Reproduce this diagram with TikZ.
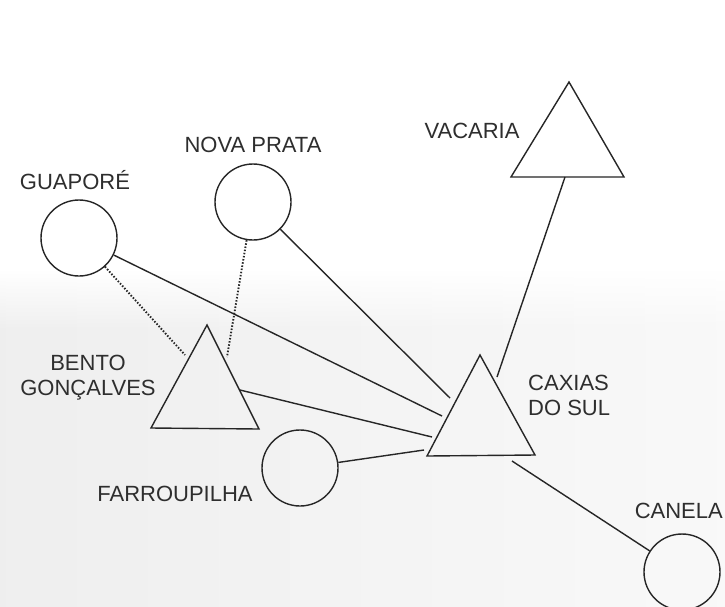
\documentclass[tikz,border=0pt]{standalone}
\usepackage{fontspec}
\setmainfont{Liberation Sans}
\usetikzlibrary{fadings}
\definecolor{ink}{HTML}{262626}
\definecolor{txt}{HTML}{2E2E2E}
\begin{document}
\begin{tikzpicture}[x=1pt,y=-1pt,
  city/.style={draw=ink, line width=1.4pt, circle, minimum size=76pt, inner sep=0pt},
  town/.style={draw=ink, line width=1.4pt, line join=miter},
  lbl/.style={font=\fontsize{22}{24.5}\selectfont, text=txt, inner sep=0pt},
  link/.style={draw=ink, line width=1.4pt},
  dotlink/.style={draw=ink, line width=1.9pt, dash pattern=on 1.5pt off 1.7pt}]
\useasboundingbox (0,0) rectangle (725,606);
\fill[white] (0,0) rectangle (725,606);
\shade[left color=gray!13, right color=gray!5] (0,330) rectangle (725,606);
\shade[left color=gray!13, right color=gray!5, path fading=north] (0,270) rectangle (725,330.5);

% circles (towns)
\node[city] (guapore) at (79,238) {};
\node[city] (novaprata) at (253,202) {};
\node[city] (farroupilha) at (300,468) {};
\node[city] (canela) at (682,572) {};

% triangles (cities)
\coordinate (bA) at (207,325); \coordinate (bL) at (151,428); \coordinate (bR) at (259,429);
\coordinate (cA) at (480,355); \coordinate (cL) at (427,456); \coordinate (cR) at (535,455);
\coordinate (vA) at (569,82);  \coordinate (vL) at (511,177); \coordinate (vR) at (624,177);
\draw[town] (bA) -- (bL) -- (bR) -- cycle;
\draw[town] (cA) -- (cL) -- (cR) -- cycle;
\draw[town] (vA) -- (vL) -- (vR) -- cycle;

% connector end points
\coordinate (cxNP) at (450,398);
\coordinate (cxGU) at (442,416);
\coordinate (cxBG) at (432,437);
\coordinate (cxFA) at (424,450);
\coordinate (cxVA) at (497,377);
\coordinate (cxCA) at (512,461);
\coordinate (bgGU) at (185,355);
\coordinate (bgNP) at (227,357);
\coordinate (bgCX) at (240,390);
\coordinate (vaCX) at (565,177);

% connectors
\draw[link] (guapore) -- (cxGU);
\draw[link] (novaprata) -- (cxNP);
\draw[link] (bgCX) -- (cxBG);
\draw[link] (farroupilha) -- (cxFA);
\draw[link] (vaCX) -- (cxVA);
\draw[link] (cxCA) -- (canela);
\draw[dotlink] (guapore) -- (bgGU);
\draw[dotlink] (novaprata) -- (bgNP);

% labels
\node[lbl, anchor=base] (lGU) at (75,189) {GUAPORÉ};
\node[lbl, anchor=base] (lNP) at (253,152) {NOVA PRATA};
\node[lbl, anchor=base] (lVA) at (472,138) {VACARIA};
\node[lbl, anchor=north, align=center] (lBG) at (88,355) {BENTO\\GONÇALVES};
\node[lbl, anchor=north west, align=left] (lCX) at (528,375) {CAXIAS\\DO SUL};
\node[lbl, anchor=base] (lFA) at (175,501) {FARROUPILHA};
\node[lbl, anchor=base east] (lCA) at (723,518) {CANELA};
\end{tikzpicture}
\end{document}
